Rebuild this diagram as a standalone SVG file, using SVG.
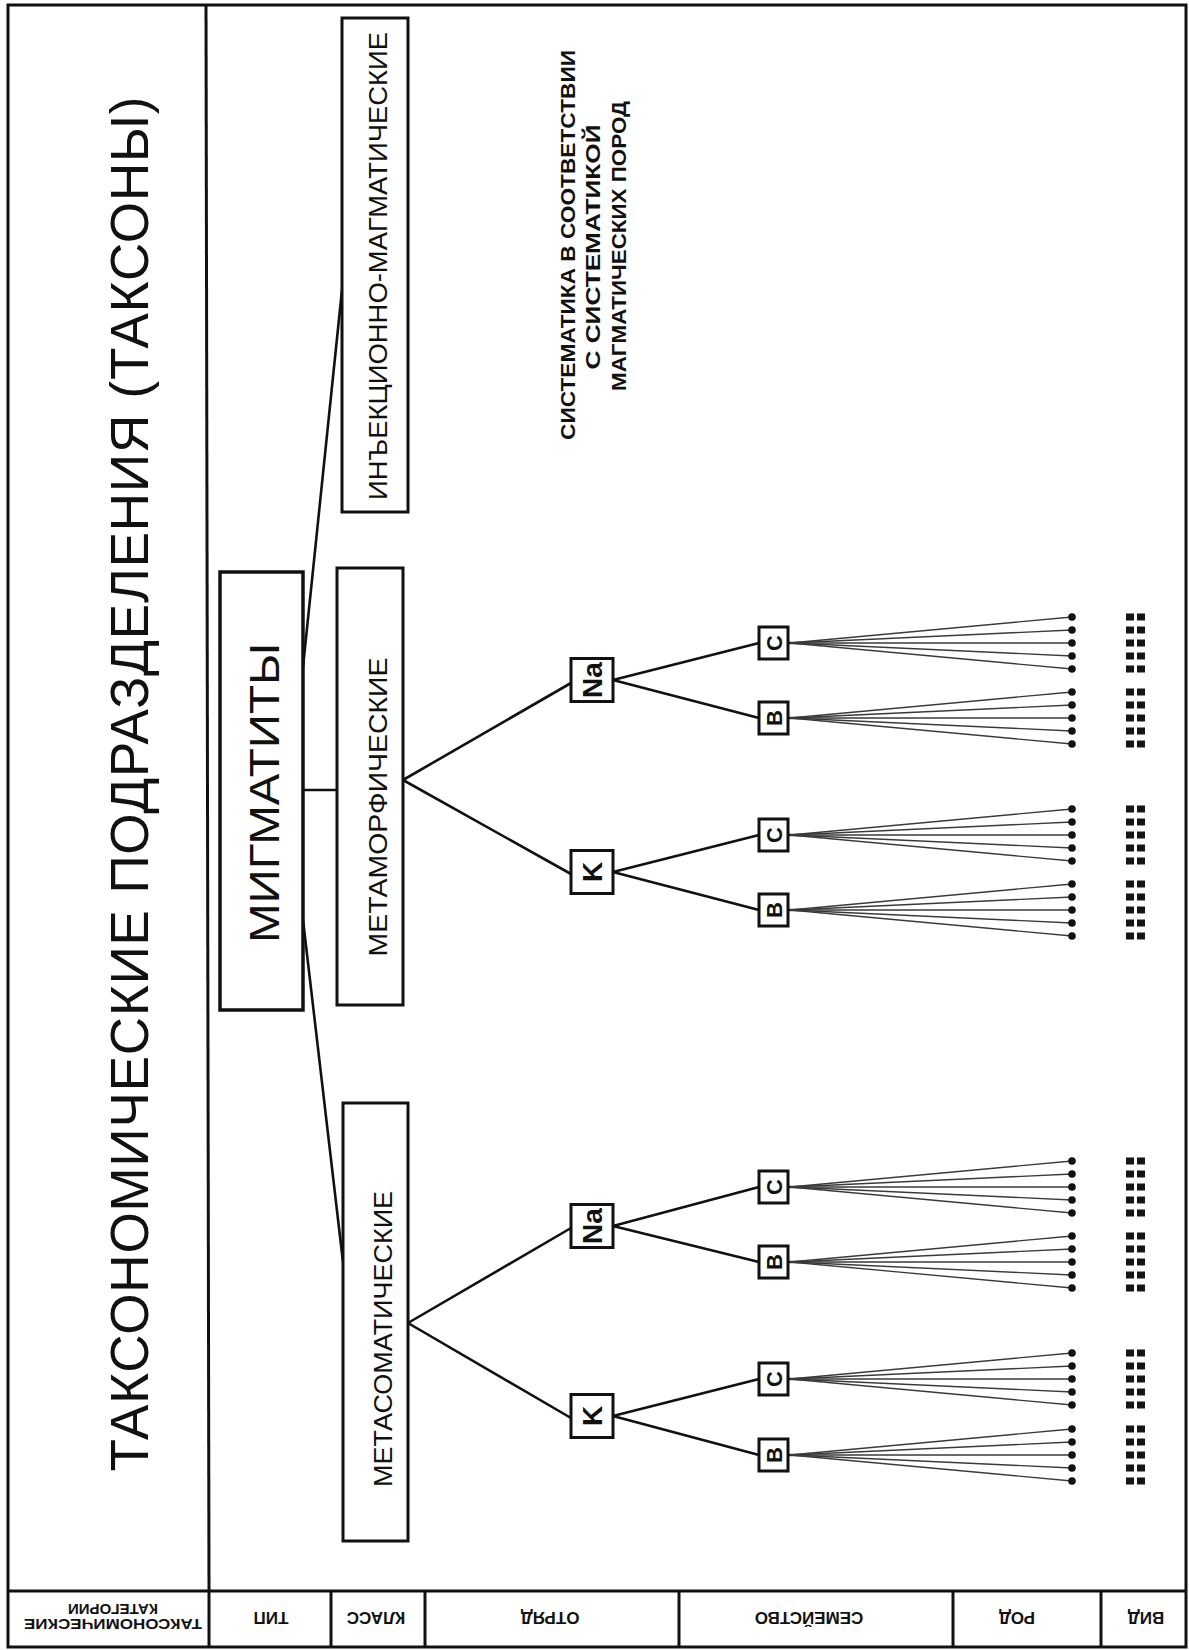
<svg xmlns="http://www.w3.org/2000/svg" xmlns:xlink="http://www.w3.org/1999/xlink" width="1189" height="1650" viewBox="0 0 1189 1650">
<style>
  text{font-family:"Liberation Sans",Arial,sans-serif;fill:#111}
  .frame{fill:none;stroke:#111;stroke-width:3}
  .box{fill:#fff;stroke:#111;stroke-width:3}
  .bigbox{fill:#fff;stroke:#111;stroke-width:3.5}
  .conn{stroke:#111;stroke-width:2.6;fill:none;stroke-linecap:round}
  .fan{stroke:#3a3a3a;stroke-width:1.3;fill:none}
  .stub{stroke:#111;stroke-width:2.4}
  .dot{fill:#111}
  .sq{fill:#151515}
  .lbl{font-size:17px;font-weight:bold}
  .bold{font-weight:bold}
</style>
<defs>
  <g id="fan">
    <line class="stub" x1="0" y1="0" x2="16" y2="0"/>
    <line class="fan" x1="2" y1="0" x2="284" y2="-26"/>
    <line class="fan" x1="2" y1="0" x2="284" y2="-13"/>
    <line class="fan" x1="2" y1="0" x2="284" y2="0"/>
    <line class="fan" x1="2" y1="0" x2="284" y2="13"/>
    <line class="fan" x1="2" y1="0" x2="284" y2="26"/>
    <circle class="dot" cx="284" cy="-26" r="3.8"/>
    <circle class="dot" cx="284" cy="-13" r="3.8"/>
    <circle class="dot" cx="284" cy="0" r="3.8"/>
    <circle class="dot" cx="284" cy="13" r="3.8"/>
    <circle class="dot" cx="284" cy="26" r="3.8"/>
    <rect class="sq" x="338" y="-29.5" width="8" height="7"/>
    <rect class="sq" x="349" y="-29.5" width="8" height="7"/>
    <rect class="sq" x="338" y="-16.5" width="8" height="7"/>
    <rect class="sq" x="349" y="-16.5" width="8" height="7"/>
    <rect class="sq" x="338" y="-3.5" width="8" height="7"/>
    <rect class="sq" x="349" y="-3.5" width="8" height="7"/>
    <rect class="sq" x="338" y="9.5" width="8" height="7"/>
    <rect class="sq" x="349" y="9.5" width="8" height="7"/>
    <rect class="sq" x="338" y="22.5" width="8" height="7"/>
    <rect class="sq" x="349" y="22.5" width="8" height="7"/>
  </g>
</defs>

<!-- table frame -->
<g id="table">
  <rect class="frame" x="8" y="5" width="1178" height="1642"/>
  <line class="frame" x1="206" y1="5" x2="209" y2="1591"/>
  <line class="frame" x1="8" y1="1591" x2="1186" y2="1591"/>
  <line class="frame" x1="209" y1="1591" x2="209" y2="1647"/>
  <line class="frame" x1="331" y1="1591" x2="331" y2="1647"/>
  <line class="frame" x1="425" y1="1591" x2="425" y2="1647"/>
  <line class="frame" x1="679" y1="1591" x2="679" y2="1647"/>
  <line class="frame" x1="953" y1="1591" x2="953" y2="1647"/>
  <line class="frame" x1="1101" y1="1591" x2="1101" y2="1647"/>
  <text transform="translate(148,784) rotate(-90)" font-size="53" text-anchor="middle" textLength="1375" lengthAdjust="spacing">ТАКСОНОМИЧЕСКИЕ ПОДРАЗДЕЛЕНИЯ (ТАКСОНЫ)</text>
  <text transform="translate(113,1604) rotate(180)" font-size="15" class="bold" text-anchor="middle">КАТЕГОРИИ</text>
  <text transform="translate(113,1619) rotate(180)" font-size="15" class="bold" text-anchor="middle" textLength="178" lengthAdjust="spacingAndGlyphs">ТАКСОНОМИЧЕСКИЕ</text>
  <text class="lbl" transform="translate(271,1612) rotate(180)" text-anchor="middle">ТИП</text>
  <text class="lbl" transform="translate(376,1612) rotate(180)" text-anchor="middle">КЛАСС</text>
  <text class="lbl" transform="translate(550,1612) rotate(180)" text-anchor="middle">ОТРЯД</text>
  <text class="lbl" transform="translate(809,1612) rotate(180)" text-anchor="middle">СЕМЕЙСТВО</text>
  <text class="lbl" transform="translate(1017,1612) rotate(180)" text-anchor="middle">РОД</text>
  <text class="lbl" transform="translate(1146,1612) rotate(180)" text-anchor="middle">ВИД</text>
</g>

<!-- note -->
<g id="note" class="bold" font-size="21" text-anchor="middle">
  <text transform="translate(575,245) rotate(-90)" textLength="390" lengthAdjust="spacingAndGlyphs">СИСТЕМАТИКА В СООТВЕТСТВИИ</text>
  <text transform="translate(600,247) rotate(-90)" textLength="245" lengthAdjust="spacingAndGlyphs">С СИСТЕМАТИКОЙ</text>
  <text transform="translate(626,246) rotate(-90)" textLength="290" lengthAdjust="spacingAndGlyphs">МАГМАТИЧЕСКИХ ПОРОД</text>
</g>

<!-- connectors -->
<g id="connectors">
  <line class="conn" x1="303" y1="667" x2="342" y2="290"/>
  <line class="conn" x1="303" y1="790" x2="337" y2="790"/>
  <line class="conn" x1="303" y1="920" x2="343" y2="1262"/>
  <line class="conn" x1="403" y1="780" x2="571" y2="683"/>
  <line class="conn" x1="403" y1="780" x2="571" y2="874"/>
  <line class="conn" x1="613" y1="680" x2="759" y2="643"/>
  <line class="conn" x1="613" y1="680" x2="759" y2="718"/>
  <line class="conn" x1="613" y1="872" x2="759" y2="835"/>
  <line class="conn" x1="613" y1="872" x2="759" y2="910"/>
  <line class="conn" x1="408" y1="1323" x2="571" y2="1228"/>
  <line class="conn" x1="408" y1="1323" x2="571" y2="1418"/>
  <line class="conn" x1="613" y1="1226" x2="759" y2="1187"/>
  <line class="conn" x1="613" y1="1226" x2="759" y2="1262"/>
  <line class="conn" x1="613" y1="1416" x2="759" y2="1379"/>
  <line class="conn" x1="613" y1="1416" x2="759" y2="1455"/>
  <use xlink:href="#fan" href="#fan" transform="translate(788,643)"/>
  <use xlink:href="#fan" href="#fan" transform="translate(788,718)"/>
  <use xlink:href="#fan" href="#fan" transform="translate(788,835)"/>
  <use xlink:href="#fan" href="#fan" transform="translate(788,910)"/>
  <use xlink:href="#fan" href="#fan" transform="translate(788,1187)"/>
  <use xlink:href="#fan" href="#fan" transform="translate(788,1262)"/>
  <use xlink:href="#fan" href="#fan" transform="translate(788,1379)"/>
  <use xlink:href="#fan" href="#fan" transform="translate(788,1455)"/>
</g>

<!-- nodes -->
<g id="migmatity">
  <rect class="bigbox" x="220" y="572" width="83" height="438"/>
  <text transform="translate(279,793) rotate(-90)" font-size="43" text-anchor="middle" textLength="300" lengthAdjust="spacingAndGlyphs">МИГМАТИТЫ</text>
</g>
<g id="injection">
  <rect class="box" x="342" y="18" width="66" height="494"/>
  <text transform="translate(387,266) rotate(-90)" font-size="26" text-anchor="middle" textLength="468" lengthAdjust="spacingAndGlyphs">ИНЪЕКЦИОННО-МАГМАТИЧЕСКИЕ</text>
</g>
<g id="metamorphic">
  <rect class="box" x="337" y="568" width="66" height="437"/>
  <text transform="translate(387,807) rotate(-90)" font-size="25" text-anchor="middle" textLength="299" lengthAdjust="spacingAndGlyphs">МЕТАМОРФИЧЕСКИЕ</text>
</g>
<g id="metasomatic">
  <rect class="box" x="343" y="1103" width="65" height="438"/>
  <text transform="translate(392,1339) rotate(-90)" font-size="25" text-anchor="middle" textLength="296" lengthAdjust="spacingAndGlyphs">МЕТАСОМАТИЧЕСКИЕ</text>
</g>

<g id="mm-na">
  <rect class="box" x="571" y="658.5" width="42" height="43"/>
  <text class="bold" transform="translate(602,680) rotate(-90)" font-size="28" text-anchor="middle">Na</text>
</g>
<g id="mm-k">
  <rect class="box" x="571" y="850.5" width="42" height="43"/>
  <text class="bold" transform="translate(602,872) rotate(-90)" font-size="28" text-anchor="middle">K</text>
</g>
<g id="ms-na">
  <rect class="box" x="571" y="1204.5" width="42" height="43"/>
  <text class="bold" transform="translate(602,1226) rotate(-90)" font-size="28" text-anchor="middle">Na</text>
</g>
<g id="ms-k">
  <rect class="box" x="571" y="1394.5" width="42" height="43"/>
  <text class="bold" transform="translate(602,1416) rotate(-90)" font-size="28" text-anchor="middle">K</text>
</g>

<g id="mm-na-c">
  <rect class="box" x="759" y="627" width="29" height="32"/>
  <text class="bold" transform="translate(781.5,643) rotate(-90)" font-size="22" text-anchor="middle">С</text>
</g>
<g id="mm-na-b">
  <rect class="box" x="759" y="702" width="29" height="32"/>
  <text class="bold" transform="translate(781.5,718) rotate(-90)" font-size="22" text-anchor="middle">В</text>
</g>
<g id="mm-k-c">
  <rect class="box" x="759" y="819" width="29" height="32"/>
  <text class="bold" transform="translate(781.5,835) rotate(-90)" font-size="22" text-anchor="middle">С</text>
</g>
<g id="mm-k-b">
  <rect class="box" x="759" y="894" width="29" height="32"/>
  <text class="bold" transform="translate(781.5,910) rotate(-90)" font-size="22" text-anchor="middle">В</text>
</g>
<g id="ms-na-c">
  <rect class="box" x="759" y="1171" width="29" height="32"/>
  <text class="bold" transform="translate(781.5,1187) rotate(-90)" font-size="22" text-anchor="middle">С</text>
</g>
<g id="ms-na-b">
  <rect class="box" x="759" y="1246" width="29" height="32"/>
  <text class="bold" transform="translate(781.5,1262) rotate(-90)" font-size="22" text-anchor="middle">В</text>
</g>
<g id="ms-k-c">
  <rect class="box" x="759" y="1363" width="29" height="32"/>
  <text class="bold" transform="translate(781.5,1379) rotate(-90)" font-size="22" text-anchor="middle">С</text>
</g>
<g id="ms-k-b">
  <rect class="box" x="759" y="1439" width="29" height="32"/>
  <text class="bold" transform="translate(781.5,1455) rotate(-90)" font-size="22" text-anchor="middle">В</text>
</g>
</svg>
